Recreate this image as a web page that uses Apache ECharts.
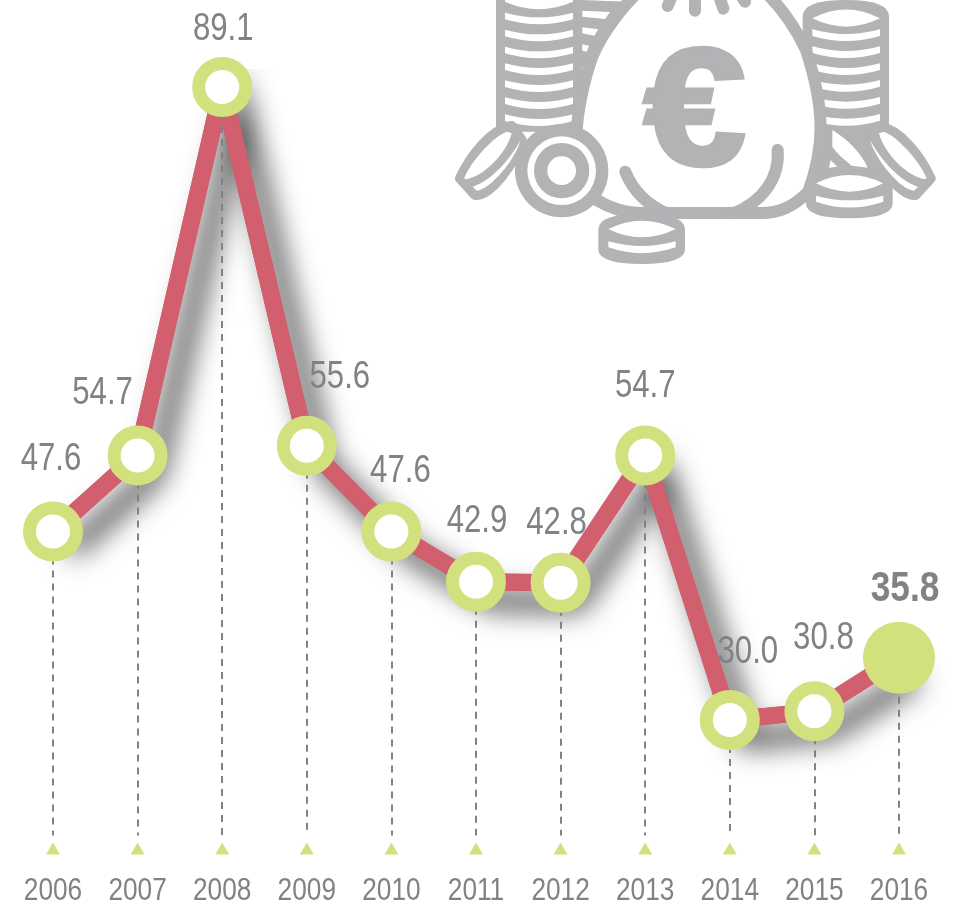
<!DOCTYPE html>
<html>
<head>
<meta charset="utf-8">
<style>
html, body { margin: 0; padding: 0; background: #fff; }
#chart { width: 960px; height: 906px; }
</style>
<script src="https://cdn.jsdelivr.net/npm/echarts@6/dist/echarts.min.js"></script>
</head>
<body>
<div id="chart"></div>
<script>
var years = ['2006', '2007', '2008', '2009', '2010', '2011', '2012', '2013', '2014', '2015', '2016'];
var values = [47.6, 54.7, 89.1, 55.6, 47.6, 42.9, 42.8, 54.7, 30.0, 30.8, 35.8];
var labelOffsets = [[-2, -72], [-35, -62], [1, -58], [33, -68], [9, -60], [1, -60], [-4, -59], [0, -69], [18, -67], [9, -73], [6, -68]];

var axisMin = 18;
var axisMax = 90;
var dropEnd = 19.2; // dashed lines stop just above the triangles

var LIME = '#D2E07D';
var ROSE = '#D15F6E';
var TEXT = '#808285';
var ICON = '#B1B3B5';
var FONT = '"Liberation Sans", sans-serif';
var NARROW = 0.82; // the labels are set in a condensed face, none is installed

// icon helpers, coordinates are in 3x units
function fill(d, color) {
	return { type: 'path', shape: { pathData: d }, style: { fill: color || ICON } };
}
function white(d) {
	return fill(d, '#fff');
}
function stroke(d, w) {
	return { type: 'path', shape: { pathData: d }, style: { fill: 'none', stroke: ICON, lineWidth: w, lineCap: 'round', lineJoin: 'round' } };
}
function circle(r, color) {
	return { type: 'circle', shape: { cx: 365, cy: 512, r: r }, style: { fill: color } };
}
function slit(x1, x2, y) { // white crescent between two coins of a pile
	var m = (x1 + x2) / 2;
	return white('M' + x1 + ',' + y + ' Q' + m + ',' + (y + 28) + ' ' + x2 + ',' + y + ' L' + x2 + ',' + (y + 20) + ' Q' + m + ',' + (y + 50) + ' ' + x1 + ',' + (y + 20) + ' Z');
}
function smallCoin(dx, dy) {
	var coin = [
		fill('M1098,550 Q1098,505 1228,505 Q1358,505 1358,550 L1358,610 Q1358,655 1228,655 Q1098,655 1098,610 Z'),
		white('M1128,550 Q1228,500 1330,550 Q1228,600 1128,550 Z'),
		white('M1128,587 Q1228,615 1330,587 L1330,605 Q1228,640 1128,605 Z')
	];
	return { type: 'group', x: dx, y: dy, children: coin };
}
function tiltedCoin() {
	return [
		{ type: 'path', shape: { pathData: 'M60,535 C90,470 150,390 215,378 L245,420 C225,490 150,590 105,585 Z' }, style: { fill: ICON, stroke: ICON, lineWidth: 30, lineJoin: 'round' } },
		white('M72,535 C95,480 160,410 200,395 L215,400 C200,460 130,530 78,538 Z'),
		white('M98,560 C150,545 210,480 242,420 C225,480 150,570 110,572 Z')
	];
}

function buildIcon() {
	var parts = [];
	var i;

	// left pile and the pile behind the bag
	parts.push(fill('M168,-5 L620,-5 L620,200 L427,200 L427,395 L168,395 Z'));
	parts.push(white('M195,-5 L399,-5 L399,5 Q295,50 195,5 Z'));
	var leftSlits = [38, 89, 140, 190, 241, 292, 343];
	for (i = 0; i < leftSlits.length; i++) {
		parts.push(slit(195, 399, leftSlits[i]));
	}
	parts.push(white('M427,-5 L590,-5 L560,5 L427,0 Z'));
	parts.push(white('M427,32 L510,36 L495,57 L427,50 Z'));
	parts.push(white('M427,82 L475,88 L463,107 L427,100 Z'));
	parts.push(white('M427,133 L447,137 L440,155 L427,152 Z'));

	// right pile
	parts.push(fill('M1088,50 Q1088,0 1218,0 Q1347,0 1347,50 L1347,385 L1330,530 L1120,530 L1088,385 Z'));
	parts.push(white('M1117,55 Q1218,2 1320,55 Q1218,105 1117,55 Z'));
	var rightSlits = [88, 139, 190, 240, 291, 342];
	for (i = 0; i < rightSlits.length; i++) {
		parts.push(slit(1117, 1320, rightSlits[i]));
	}
	parts.push(white('M1177,390 C1220,415 1265,460 1283,503 L1235,497 C1215,480 1190,460 1177,440 Z'));
	parts.push(white('M1172,480 L1192,500 L1167,503 Z'));

	// bag
	parts.push({
		type: 'path',
		shape: { pathData: 'M590,-20 C520,50 470,130 450,190 C425,270 408,360 408,440 L470,600 C520,630 560,639 600,639 L960,639 C1020,639 1060,620 1105,575 C1150,450 1160,340 1098,150 C1070,90 1030,30 980,-20' },
		style: { fill: '#fff', stroke: ICON, lineWidth: 36, lineJoin: 'round' }
	});
	parts.push(stroke('M556,515 Q590,600 680,640', 36));
	parts.push(stroke('M1013,450 C1020,540 960,610 880,640', 36));
	parts.push(stroke('M695,-10 L683,18', 36));
	parts.push(stroke('M765,-10 L765,32', 36));
	parts.push(stroke('M838,-10 L850,26', 36));
	parts.push(stroke('M905,-10 L915,5', 36));
	parts.push({
		type: 'text',
		x: 765, y: 353,
		scaleX: 1.1,
		style: { text: '€', font: 'bold 500px "Liberation Sans", sans-serif', fill: ICON, stroke: ICON, lineWidth: 14, textAlign: 'center', textVerticalAlign: 'middle' }
	});

	// coins in front
	parts.push(circle(140, ICON));
	parts.push(circle(103, '#fff'));
	parts.push(circle(83, ICON));
	parts.push(circle(43, '#fff'));
	parts.push({ type: 'group', children: tiltedCoin() });
	parts.push({ type: 'group', x: 1532, scaleX: -1, children: tiltedCoin() });
	parts.push(smallCoin(0, 0));
	parts.push(smallCoin(-623, 137));

	return { type: 'group', x: 440, y: 0, scaleX: 1 / 3, scaleY: 1 / 3, children: parts };
}

function narrowText(x, y, text, font, scale) {
	return {
		type: 'text',
		x: x, y: y,
		scaleX: scale,
		style: { text: text, font: font, fill: TEXT, textAlign: 'center', textVerticalAlign: 'middle' }
	};
}

function renderValueLabel(params, api) {
	var i = params.dataIndex;
	var p = api.coord([api.value(0), api.value(1)]);
	var last = i === lastIndex;
	var font = last ? 'bold 42px ' + FONT : '38px ' + FONT;
	return narrowText(p[0] + labelOffsets[i][0], p[1] + labelOffsets[i][1], values[i].toFixed(1), font, last ? 0.84 : NARROW);
}

function renderYearLabel(params, api) {
	var p = api.coord([api.value(0), axisMin]);
	return narrowText(p[0], p[1] + 43, years[params.dataIndex], '32px ' + FONT, NARROW);
}

var lastIndex = values.length - 1;

var chart = echarts.init(document.getElementById('chart'));
var option = {
	backgroundColor: '#fff',
	animation: false,
	grid: { left: 10.7, width: 930.6, top: 77.4, height: 771 },
	xAxis: {
		type: 'category',
		data: years,
		axisLine: { show: false },
		axisTick: { show: false },
		splitLine: { show: false },
		axisLabel: { show: false }
	},
	yAxis: { type: 'value', min: axisMin, max: axisMax, show: false },
	series: [
		{
			// money bag icon
			type: 'custom',
			coordinateSystem: 'none',
			silent: true,
			z: 0,
			data: [0],
			renderItem: buildIcon
		},
		{
			// shadow layer
			type: 'line',
			z: 1,
			data: values,
			symbol: 'circle',
			symbolSize: 60,
			showSymbol: true,
			itemStyle: { color: LIME, opacity: 1, shadowColor: 'rgba(0,0,0,0.5)', shadowBlur: 28, shadowOffsetX: 14, shadowOffsetY: 16 },
			lineStyle: { color: ROSE, width: 17, join: 'miter', shadowColor: 'rgba(0,0,0,0.8)', shadowBlur: 28, shadowOffsetX: 17, shadowOffsetY: 19 }
		},
		{
			// clean line with the dashed drops over it
			type: 'line',
			z: 2,
			data: values,
			showSymbol: false,
			symbol: 'none',
			lineStyle: { color: ROSE, width: 17, join: 'miter' },
			markLine: {
				silent: true,
				z: 3,
				symbol: 'none',
				label: { show: false },
				lineStyle: { color: TEXT, width: 2, type: [7, 6], opacity: 1 },
				data: values.map(function(v, i) {
					return [{ coord: [years[i], v] }, { coord: [years[i], dropEnd] }];
				})
			}
		},
		{
			// base triangles
			type: 'scatter',
			z: 3,
			symbol: 'triangle',
			symbolSize: [14, 12],
			itemStyle: { color: LIME, opacity: 1 },
			data: years.map(function() {
				return axisMin;
			})
		},
		{
			// rings
			type: 'scatter',
			z: 4,
			data: values.map(function(v, i) {
				var last = i === lastIndex;
				return {
					value: v,
					symbolSize: last ? 72 : 47,
					itemStyle: last ? { color: LIME, opacity: 1 } : { color: '#fff', borderColor: LIME, borderWidth: 13, opacity: 1 }
				};
			})
		},
		{
			// value labels
			type: 'custom',
			z: 5,
			silent: true,
			encode: { x: 0, y: 1 },
			data: values.map(function(v, i) {
				return [i, v];
			}),
			renderItem: renderValueLabel
		},
		{
			// year labels
			type: 'custom',
			z: 5,
			silent: true,
			encode: { x: 0, y: 1 },
			data: years.map(function(y, i) {
				return [i, axisMin];
			}),
			renderItem: renderYearLabel
		}
	]
};
chart.setOption(option);
</script>
</body>
</html>
